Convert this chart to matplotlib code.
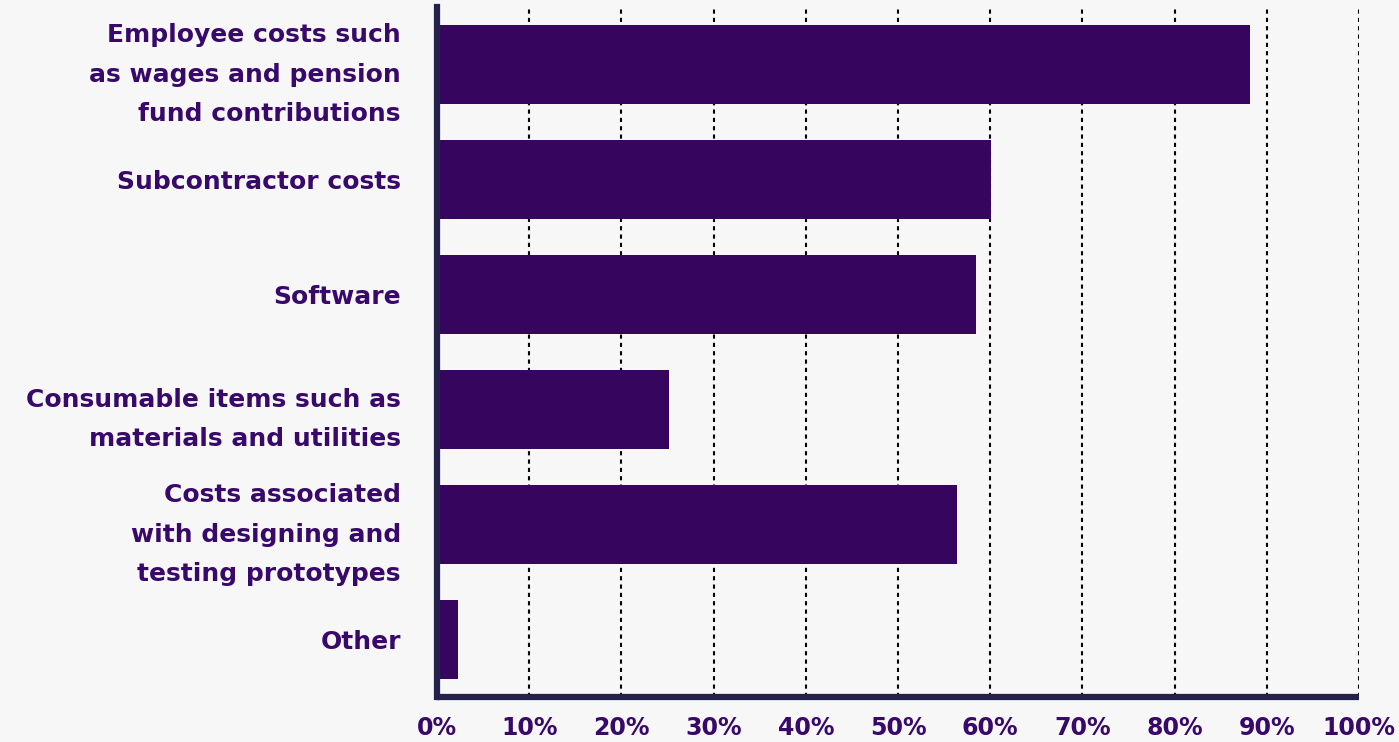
import matplotlib
matplotlib.use("Agg")

import matplotlib.pyplot as plt
import numpy as np

categories = [
    "Employee costs such\nas wages and pension\nfund contributions",
    "Subcontractor costs",
    "Software",
    "Consumable items such as\nmaterials and utilities",
    "Costs associated\nwith designing and\ntesting prototypes",
    "Other",
]
shares = [88.2, 60.1, 58.5, 25.2, 56.4, 2.3]
tick_values = [0, 10, 20, 30, 40, 50, 60, 70, 80, 90, 100]
tick_labels = ["%d%%" % t for t in tick_values]

BG = "#f7f7f7"
BAR = "#36065f"
TEXT = "#38086a"
SPINE = "#22224a"

plt.rcParams["font.family"] = ["DejaVu Sans"]

fig = plt.figure(figsize=(13.99, 7.42), dpi=100, facecolor=BG)
ax = fig.add_axes([437 / 1399, 45 / 742, 922 / 1399, 690 / 742])
ax.set_facecolor(BG)

ys = np.arange(len(categories))
ax.barh(ys, shares, height=0.69, color=BAR, zorder=3)

ax.set_xlim(0, 100)
ax.set_ylim(len(categories) - 0.5, -0.5)

ax.set_xticks(tick_values)
ax.set_xticklabels(tick_labels, fontsize=17, fontweight="bold", color=TEXT)
ax.set_yticks(ys)
ax.set_yticklabels(categories, fontsize=18, fontweight="bold", color=TEXT,
                   linespacing=1.8)
ax.tick_params(axis="both", length=0)
ax.tick_params(axis="y", pad=26)
ax.tick_params(axis="x", pad=14)

for t in tick_values[1:]:
    ax.axvline(t, color="black", linestyle=(0, (2, 2)), linewidth=1.5, zorder=2)

for side in ["top", "right"]:
    ax.spines[side].set_visible(False)
for side in ["left", "bottom"]:
    ax.spines[side].set_color(SPINE)
    ax.spines[side].set_linewidth(4.5)
    ax.spines[side].set_zorder(4)
ax.spines["bottom"].set_capstyle("butt")

fig.savefig("out.png", dpi=100, facecolor=BG)
